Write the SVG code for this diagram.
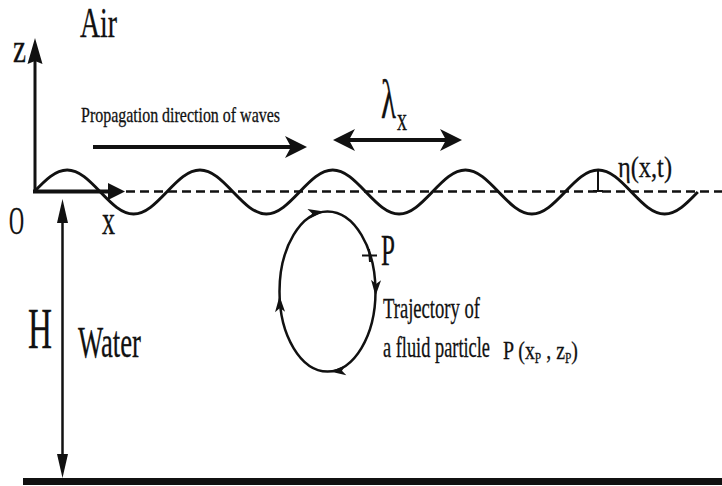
<svg xmlns="http://www.w3.org/2000/svg" xmlns:xlink="http://www.w3.org/1999/xlink" width="722" height="486" viewBox="0 0 722 486">
<style>
text{font-family:"Liberation Serif","Times New Roman",serif;fill:#111;stroke:#111;stroke-width:0.3}
.ln{fill:none;stroke:#111;stroke-linecap:butt}
.hd{fill:#111;stroke:none}
</style>
<defs>
<marker id="barb" markerUnits="userSpaceOnUse" markerWidth="24" markerHeight="24" viewBox="0 -12 24 24" refX="6" refY="0" orient="auto-start-reverse" overflow="visible">
<path class="hd" d="M0,-11 L22,0 L0,11 L6,0 z"/>
</marker>
<marker id="xhead" markerUnits="userSpaceOnUse" markerWidth="18" markerHeight="18" viewBox="0 -9 18 18" refX="1" refY="0" orient="auto" overflow="visible">
<path class="hd" d="M0,-8.5 L17,0 L0,8.5 z"/>
</marker>
<marker id="zhead" markerUnits="userSpaceOnUse" markerWidth="26" markerHeight="16" viewBox="0 -8 26 16" refX="3" refY="0" orient="auto" overflow="visible">
<path class="hd" d="M0,-7.5 L26,0 L0,7.5 L3,0 z"/>
</marker>
<marker id="hhead" markerUnits="userSpaceOnUse" markerWidth="24" markerHeight="12" viewBox="0 -6 24 12" refX="1" refY="0" orient="auto-start-reverse" overflow="visible">
<path class="hd" d="M0,-5.5 L24,0 L0,5.5 z"/>
</marker>
<path id="sa" class="hd" d="M-16,-5 L0,0 L-16,5 L-12,0 z"/>
</defs>

<g id="seabed">
<rect x="23" y="478" width="699" height="7" fill="#111"/>
</g>

<g id="mean-level">
<line class="ln" x1="126" y1="191.5" x2="722" y2="191.5" stroke-width="2.5" stroke-dasharray="9 5"/>
</g>

<g id="wave">
<path class="ln" stroke-width="3" d="M34,192 c11.09,-11.55 21.24,-22 33.19,-22 s22.10,10.45 33.19,22 s21.24,22 33.19,22 s22.10,-10.45 33.19,-22 s21.24,-22 33.19,-22 s22.10,10.45 33.19,22 s21.24,22 33.19,22 s22.10,-10.45 33.19,-22 s21.24,-22 33.19,-22 s22.10,10.45 33.19,22 s21.24,22 33.19,22 s22.10,-10.45 33.19,-22 s21.24,-22 33.19,-22 s22.10,10.45 33.19,22 s21.24,22 33.19,22 s22.10,-10.45 33.19,-22 s21.24,-22 33.19,-22 s22.10,10.45 33.19,22 s21.24,22 33.19,22 s22.10,-10.45 33.19,-22"/>
</g>

<g id="connectors">
<line id="z-axis" class="ln" x1="35" y1="193" x2="35" y2="61" stroke-width="3" marker-end="url(#zhead)"/>
<line id="x-axis" class="ln" x1="33" y1="191.5" x2="109" y2="191.5" stroke-width="4" marker-end="url(#xhead)"/>
<line id="propagation" class="ln" x1="93" y1="147" x2="291" y2="147" stroke-width="4" marker-end="url(#barb)"/>
<line id="lambda-arrow" class="ln" x1="349" y1="140" x2="446" y2="140" stroke-width="4" marker-start="url(#barb)" marker-end="url(#barb)"/>
<line id="depth-arrow" class="ln" x1="62.5" y1="222" x2="62.5" y2="455" stroke-width="2.5" marker-start="url(#hhead)" marker-end="url(#hhead)"/>
<g id="eta-tick">
<line class="ln" x1="598" y1="171" x2="598" y2="191" stroke-width="2"/>
<line class="ln" x1="593" y1="191" x2="603" y2="191" stroke-width="2"/>
</g>
</g>

<g id="trajectory">
<ellipse class="ln" cx="327.5" cy="291.5" rx="48" ry="80" stroke-width="2.5"/>
<use xlink:href="#sa" href="#sa" transform="translate(324,211.5) rotate(-9)"/>
<use xlink:href="#sa" href="#sa" transform="translate(375.5,296) rotate(92)"/>
<use xlink:href="#sa" href="#sa" transform="translate(330,371.5) rotate(176)"/>
<use xlink:href="#sa" href="#sa" transform="translate(279.5,296) rotate(-92)"/>
<g id="particle">
<line class="ln" x1="362" y1="255.5" x2="377" y2="255.5" stroke-width="2"/>
<line class="ln" x1="369" y1="249" x2="370" y2="262" stroke-width="2"/>
</g>
</g>

<g id="labels">
<text x="13" y="62" font-size="40" textLength="13" lengthAdjust="spacingAndGlyphs">z</text>
<text x="80" y="37" font-size="42" textLength="37" lengthAdjust="spacingAndGlyphs">Air</text>
<text x="81" y="122" font-size="22" textLength="199" lengthAdjust="spacingAndGlyphs">Propagation direction of waves</text>
<text x="381" y="118" font-size="54" textLength="15" lengthAdjust="spacingAndGlyphs">λ</text>
<text x="397" y="130" font-size="32" textLength="10" lengthAdjust="spacingAndGlyphs">x</text>
<text x="618" y="177" font-size="30" textLength="54" lengthAdjust="spacingAndGlyphs">η(x,t)</text>
<text x="9" y="234" font-size="40" textLength="15" lengthAdjust="spacingAndGlyphs">O</text>
<text x="102" y="234" font-size="40" textLength="13" lengthAdjust="spacingAndGlyphs">x</text>
<text x="381" y="265" font-size="44" textLength="14" lengthAdjust="spacingAndGlyphs">P</text>
<text x="383" y="318" font-size="29" textLength="97" lengthAdjust="spacingAndGlyphs">Trajectory of</text>
<text x="383" y="357" font-size="29" textLength="107" lengthAdjust="spacingAndGlyphs">a fluid particle</text>
<text x="503" y="359" font-size="26" textLength="75" lengthAdjust="spacingAndGlyphs">P (x<tspan font-size="15" dy="4">P</tspan><tspan dy="-4"> , z</tspan><tspan font-size="15" dy="4">P</tspan><tspan dy="-4">)</tspan></text>
<text x="28" y="348" font-size="56" textLength="24" lengthAdjust="spacingAndGlyphs">H</text>
<text x="78" y="357" font-size="44" textLength="63" lengthAdjust="spacingAndGlyphs">Water</text>
</g>
</svg>
